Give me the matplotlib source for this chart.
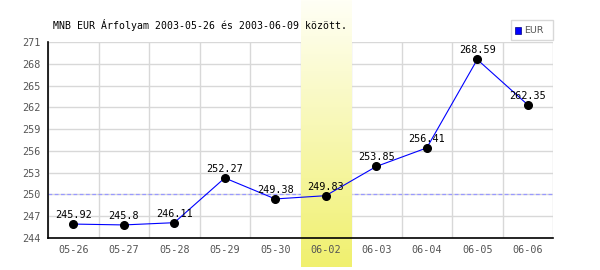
import numpy as np
import matplotlib.pyplot as plt

dates = ['05-26', '05-27', '05-28', '05-29', '05-30', '06-02', '06-03', '06-04', '06-05', '06-06']
rates = [245.92, 245.8, 246.11, 252.27, 249.38, 249.83, 253.85, 256.41, 268.59, 262.35]
yticks = [244, 247, 250, 253, 256, 259, 262, 265, 268, 271]
ref_level = 250
highlight = '06-02'
title = 'MNB EUR Árfolyam 2003-05-26 és 2003-06-09 között.'

mono = 'DejaVu Sans Mono'

fig = plt.figure(figsize=(6, 2.7), dpi=100)
ax = fig.add_axes([48 / 600, 32 / 270, 505 / 600, 196 / 270])

x = np.arange(len(dates))

# grid: vertical lines at category borders, horizontal at ticks
for b in np.arange(len(dates) + 1) - 0.5:
    ax.axvline(b, color='#d8d8d8', lw=1, zorder=0)
for t in yticks:
    ax.axhline(t, color='#d8d8d8', lw=1, zorder=0)

ax.axhline(ref_level, color='#9999ff', lw=0.9, ls=(0, (3, 2)), zorder=1)

# highlighted day, gradient band running past the axes
hi = dates.index(highlight)
grad = np.linspace(0, 1, 256).reshape(-1, 1)
top = np.array([255, 255, 246]) / 255
bot = np.array([240, 240, 110]) / 255
img = top + (bot - top) * grad[:, :, None]
ax.imshow(img, extent=(hi - 0.5, hi + 0.5, -29 / 196, 238 / 196), aspect='auto',
          transform=ax.get_xaxis_transform(), clip_on=False, zorder=1.5,
          interpolation='bilinear')

ax.plot(x, rates, color='#0000ff', lw=0.8, zorder=3)
ax.plot(x, rates, 'o', color='black', ms=5.5, zorder=4)
for xi, v in zip(x, rates):
    ax.annotate(f'{v:g}', (xi, v), xytext=(0, 3), textcoords='offset points',
                ha='center', va='bottom', fontsize=7.3, family=mono, zorder=5)

ax.set_xlim(-0.5, len(dates) - 0.5)
ax.set_ylim(yticks[0], yticks[-1])
ax.set_xticks(x)
ax.set_xticklabels(dates, family=mono, fontsize=7.3, color='#555555')
ax.set_yticks(yticks)
ax.set_yticklabels([str(t) for t in yticks], family=mono, fontsize=7.3, color='#555555')
ax.tick_params(length=0, pad=5)
ax.set_facecolor('none')
for s in ['top', 'right']:
    ax.spines[s].set_visible(False)
for s in ['left', 'bottom']:
    ax.spines[s].set_color('black')
    ax.spines[s].set_linewidth(1.2)
    ax.spines[s].set_zorder(6)

fig.text(53 / 600, 1 - 25 / 270, title, family=mono, fontsize=7.1, va='center', ha='left')

# legend box
fig.patches.append(plt.Rectangle((511 / 600, 1 - 40 / 270), 42 / 600, 20 / 270,
                                 transform=fig.transFigure, fc='white', ec='#d8d8d8', lw=1))
fig.patches.append(plt.Rectangle((515 / 600, 1 - 33.5 / 270), 6 / 600, 6 / 270,
                                 transform=fig.transFigure, fc='#0000ff', ec='#000080', lw=0.5))
fig.text(524 / 600, 1 - 30.5 / 270, 'EUR', fontsize=6.8, color='#555555', va='center', ha='left')

fig.savefig('out.png', dpi=100)
